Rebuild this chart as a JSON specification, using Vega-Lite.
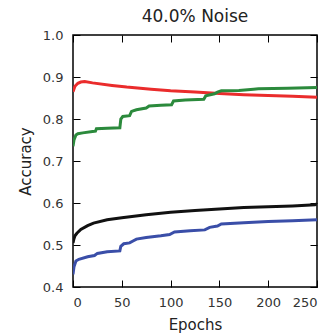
{
  "$schema": "https://vega.github.io/schema/vega-lite/v6.json",
  "width": 244,
  "height": 252,
  "autosize": {"type": "none"},
  "padding": {"left": 73, "top": 35, "right": 12, "bottom": 48},
  "title": {"text": "40.0% Noise", "fontSize": 17, "fontWeight": "normal", "font": "DejaVu Sans", "color": "#222", "offset": 3},
  "config": {
    "view": {"stroke": "#000", "strokeWidth": 1.5},
    "axis": {"grid": false, "labelFont": "DejaVu Sans", "titleFont": "DejaVu Sans", "labelFontSize": 13, "titleFontSize": 15, "titleFontWeight": "normal", "labelColor": "#333", "titleColor": "#222", "tickColor": "#000", "domain": false, "tickSize": -7, "tickWidth": 1}
  },
  "data": {"values": [
    {"s":"red","e":0,"a":0.865},{"s":"red","e":2,"a":0.878},{"s":"red","e":5,"a":0.885},{"s":"red","e":8,"a":0.888},{"s":"red","e":12,"a":0.889},{"s":"red","e":20,"a":0.886},{"s":"red","e":40,"a":0.880},{"s":"red","e":55,"a":0.876},{"s":"red","e":80,"a":0.871},{"s":"red","e":100,"a":0.867},{"s":"red","e":125,"a":0.864},{"s":"red","e":150,"a":0.861},{"s":"red","e":175,"a":0.858},{"s":"red","e":200,"a":0.856},{"s":"red","e":225,"a":0.854},{"s":"red","e":250,"a":0.852},
    {"s":"green","e":0,"a":0.735},{"s":"green","e":1,"a":0.75},{"s":"green","e":3,"a":0.762},{"s":"green","e":5,"a":0.765},{"s":"green","e":10,"a":0.767},{"s":"green","e":20,"a":0.770},{"s":"green","e":23,"a":0.771},{"s":"green","e":24,"a":0.777},{"s":"green","e":35,"a":0.778},{"s":"green","e":48,"a":0.779},{"s":"green","e":49,"a":0.800},{"s":"green","e":51,"a":0.806},{"s":"green","e":58,"a":0.808},{"s":"green","e":60,"a":0.818},{"s":"green","e":65,"a":0.822},{"s":"green","e":75,"a":0.826},{"s":"green","e":78,"a":0.831},{"s":"green","e":90,"a":0.833},{"s":"green","e":101,"a":0.834},{"s":"green","e":103,"a":0.843},{"s":"green","e":115,"a":0.845},{"s":"green","e":134,"a":0.847},{"s":"green","e":136,"a":0.855},{"s":"green","e":145,"a":0.860},{"s":"green","e":148,"a":0.864},{"s":"green","e":152,"a":0.867},{"s":"green","e":170,"a":0.868},{"s":"green","e":185,"a":0.871},{"s":"green","e":190,"a":0.872},{"s":"green","e":220,"a":0.873},{"s":"green","e":250,"a":0.875},
    {"s":"black","e":0,"a":0.505},{"s":"black","e":1,"a":0.515},{"s":"black","e":2,"a":0.522},{"s":"black","e":4,"a":0.528},{"s":"black","e":8,"a":0.537},{"s":"black","e":15,"a":0.546},{"s":"black","e":21,"a":0.552},{"s":"black","e":35,"a":0.560},{"s":"black","e":50,"a":0.565},{"s":"black","e":75,"a":0.572},{"s":"black","e":100,"a":0.578},{"s":"black","e":125,"a":0.582},{"s":"black","e":150,"a":0.586},{"s":"black","e":175,"a":0.589},{"s":"black","e":200,"a":0.591},{"s":"black","e":225,"a":0.593},{"s":"black","e":248,"a":0.596},{"s":"black","e":250,"a":0.598},
    {"s":"blue","e":0,"a":0.43},{"s":"blue","e":1,"a":0.448},{"s":"blue","e":3,"a":0.462},{"s":"blue","e":6,"a":0.466},{"s":"blue","e":15,"a":0.472},{"s":"blue","e":22,"a":0.475},{"s":"blue","e":25,"a":0.480},{"s":"blue","e":35,"a":0.484},{"s":"blue","e":48,"a":0.486},{"s":"blue","e":49,"a":0.497},{"s":"blue","e":52,"a":0.503},{"s":"blue","e":58,"a":0.505},{"s":"blue","e":61,"a":0.509},{"s":"blue","e":65,"a":0.514},{"s":"blue","e":75,"a":0.518},{"s":"blue","e":90,"a":0.522},{"s":"blue","e":99,"a":0.525},{"s":"blue","e":104,"a":0.531},{"s":"blue","e":120,"a":0.534},{"s":"blue","e":135,"a":0.536},{"s":"blue","e":140,"a":0.542},{"s":"blue","e":148,"a":0.545},{"s":"blue","e":152,"a":0.550},{"s":"blue","e":175,"a":0.553},{"s":"blue","e":200,"a":0.556},{"s":"blue","e":225,"a":0.558},{"s":"blue","e":250,"a":0.560}
  ]},
  "resolve": {"axis": {"x": "independent", "y": "independent"}},
  "layer": [
    {
      "mark": {"type": "line", "clip": true},
      "encoding": {
        "x": {"field": "e", "type": "quantitative", "scale": {"domain": [0, 250], "nice": false, "zero": false}, "axis": {"title": "Epochs", "values": [0, 50, 100, 150, 200, 250], "labelPadding": 16, "titlePadding": 8, "orient": "bottom"}},
        "y": {"field": "a", "type": "quantitative", "scale": {"domain": [0.4, 1.0], "nice": false, "zero": false}, "axis": {"title": "Accuracy", "values": [0.4, 0.5, 0.6, 0.7, 0.8, 0.9, 1.0], "format": ".1f", "labelPadding": 17, "titlePadding": 9, "orient": "left"}},
        "color": {"field": "s", "type": "nominal", "scale": {"domain": ["red", "green", "black", "blue"], "range": ["#ea2c2c", "#2b8a3c", "#111111", "#3a4ea8"]}, "legend": null},
        "strokeWidth": {"field": "s", "type": "nominal", "scale": {"domain": ["red", "green", "black", "blue"], "range": [3, 3, 2, 3]}, "legend": null},
        "detail": {"field": "s"}
      }
    },
    {
      "mark": {"type": "line", "strokeOpacity": 0},
      "encoding": {
        "x": {"field": "e", "type": "quantitative", "scale": {"domain": [0, 250], "nice": false, "zero": false}, "axis": {"title": null, "labels": false, "values": [0, 50, 100, 150, 200, 250], "orient": "top"}},
        "y": {"field": "a", "type": "quantitative", "scale": {"domain": [0.4, 1.0], "nice": false, "zero": false}, "axis": {"title": null, "labels": false, "values": [0.4, 0.5, 0.6, 0.7, 0.8, 0.9, 1.0], "orient": "right"}},
        "detail": {"field": "s"}
      }
    }
  ]
}
